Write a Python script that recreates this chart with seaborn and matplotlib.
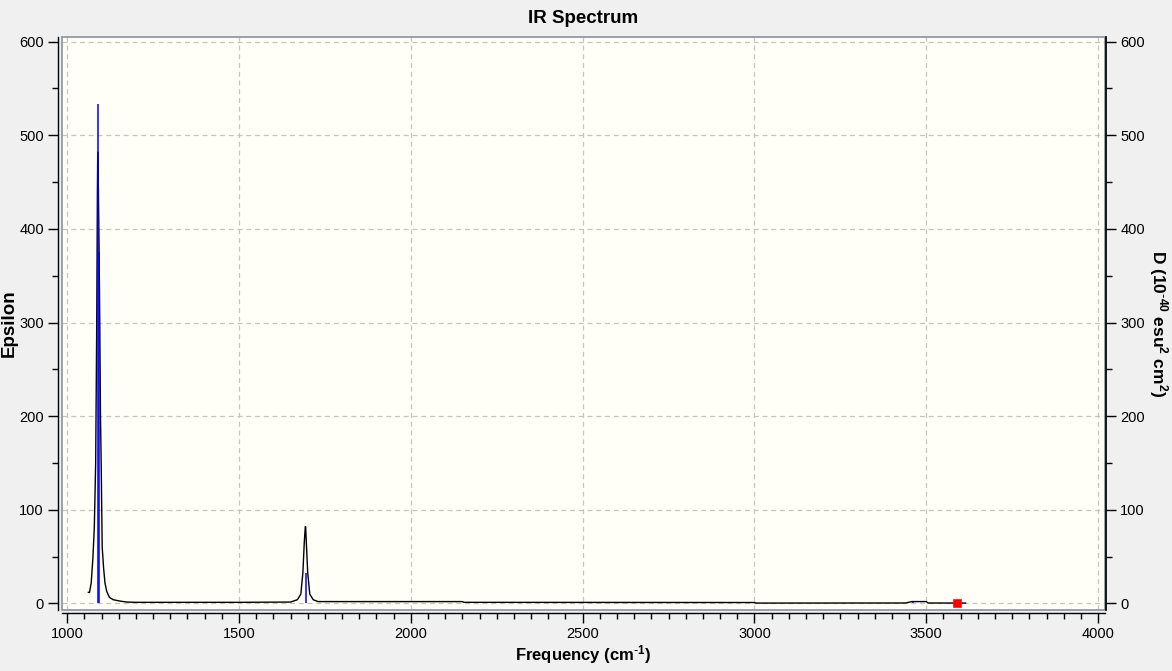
import numpy as np
import pandas as pd
import matplotlib
matplotlib.use("Agg")
import matplotlib.pyplot as plt
import seaborn as sns
from matplotlib.ticker import MultipleLocator
from matplotlib.patches import Rectangle

# --- dados ---
# curva (Epsilon) ponto a ponto
freq_curve = [1061, 1065, 1070, 1075, 1079, 1083, 1086, 1088, 1089, 1091, 1093, 1095,
              1097, 1099, 1102, 1106, 1110, 1115, 1123, 1134, 1154, 1174, 1200,
              1500, 1650, 1670, 1680, 1686, 1690, 1693, 1694, 1696, 1700, 1706,
              1716, 1730, 2150, 2155, 3000, 3005, 3440, 3458, 3500, 3505, 3615]
eps_curve = [12, 11.7, 22, 49, 81, 150, 296, 439, 482, 440, 375, 296,
             200, 150, 60, 38, 22, 13, 6.5, 4, 2.5, 1.5, 1.2,
             1.2, 1.5, 4, 10, 33, 65, 82, 82, 65, 33, 10,
             4, 2, 2, 1.2, 1.0, 0.4, 0.5, 2, 2, 0.5, 0.4]

# linhas verticais (D)
freq_sticks = [1091, 1093, 1694, 3461]
d_sticks = [533, 375, 33, 1.5]

# modo selecionado (marcador vermelho)
freq_sel = [3590]
d_sel = [0]

bg = '#f0f0f0'
sns.set_theme(style='white')
plt.rcParams['font.family'] = ['Liberation Sans', 'DejaVu Sans']
plt.rcParams['mathtext.default'] = 'regular'
plt.rcParams['text.color'] = 'black'
plt.rcParams['axes.labelcolor'] = 'black'
plt.rcParams['xtick.color'] = 'black'
plt.rcParams['ytick.color'] = 'black'

fig = plt.figure(figsize=(11.72, 6.71), dpi=100, facecolor=bg)
ax = fig.add_axes([0.0529, 0.0909, 0.8899, 0.854])
ax.set_facecolor('#fffff7')

df = pd.DataFrame({'freq': freq_curve, 'eps': eps_curve})
sns.lineplot(data=df, x='freq', y='eps', ax=ax, color='black', lw=1.0,
             sort=False, estimator=None)
ax.vlines(freq_sticks, 0, d_sticks, colors='blue', lw=1.1, zorder=3)
sns.scatterplot(x=freq_sel, y=d_sel, ax=ax, color='red', marker='s', s=30,
                edgecolor='red', zorder=4)

ax.set_xlim(985, 4020)
ax.set_ylim(-7, 605)
ax.xaxis.set_major_locator(MultipleLocator(500))
ax.xaxis.set_minor_locator(MultipleLocator(50))
ax.yaxis.set_major_locator(MultipleLocator(100))
ax.yaxis.set_minor_locator(MultipleLocator(50))
ax.grid(True, which='major', color='#c4c4c4', ls=(0, (4, 3)), lw=0.9)

for s in ['top', 'right']:
    ax.spines[s].set_visible(False)
ax.spines['left'].set_position(('outward', 3))
ax.spines['bottom'].set_position(('outward', 2))
for s in ['left', 'bottom']:
    ax.spines[s].set_color('black')
    ax.spines[s].set_linewidth(1.0)
ax.add_patch(Rectangle((0, 0), 1, 1, transform=ax.transAxes, fill=False,
                       ec='#8a919c', lw=1.2, clip_on=False, zorder=5))

ax.tick_params(axis='both', which='major', direction='out', length=7, width=1,
               color='black', labelsize=10.5, pad=3, bottom=True, left=True)
ax.tick_params(axis='both', which='minor', direction='out', length=4, width=1,
               color='black', bottom=True, left=True)

ax2 = ax.twinx()
ax2.set_ylim(ax.get_ylim())
ax2.yaxis.set_major_locator(MultipleLocator(100))
ax2.yaxis.set_minor_locator(MultipleLocator(50))
for s in ['top', 'left', 'bottom']:
    ax2.spines[s].set_visible(False)
ax2.spines['right'].set_position(('outward', 1))
ax2.spines['right'].set_color('black')
ax2.tick_params(axis='y', which='major', direction='out', length=7, width=1,
                color='black', labelsize=10.5, pad=3, right=True)
ax2.tick_params(axis='y', which='minor', direction='out', length=4, width=1,
                color='black', right=True)
ax2.grid(False)

ax.set_title('IR Spectrum', fontsize=13.5, fontweight='bold', pad=10)
ax.set_xlabel(r'Frequency (cm$^{\text{-}1}$)', fontsize=12, fontweight='bold', labelpad=2)
ax.set_ylabel('Epsilon', fontsize=13.5, fontweight='bold', labelpad=1)
ax2.set_ylabel(r'D (10$^{\text{-}40}$ esu$^{2}$ cm$^{2}$)', fontsize=12.5, fontweight='bold',
               rotation=270, labelpad=18)

plt.savefig('out.png', dpi=100, facecolor=bg)
